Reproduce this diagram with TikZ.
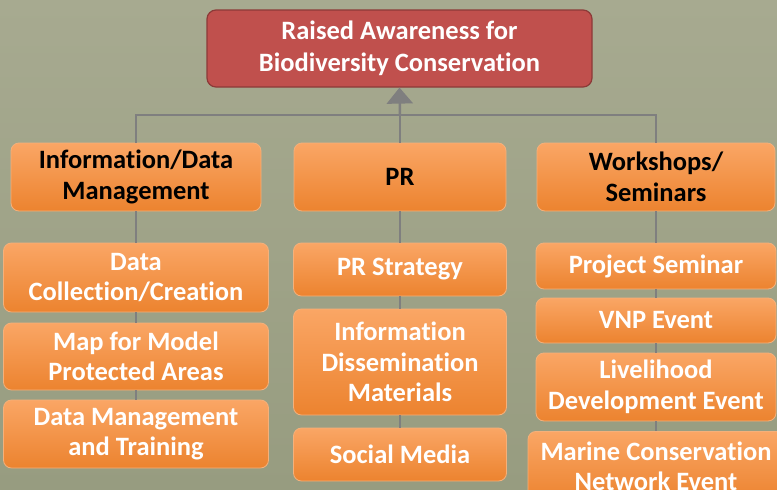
\documentclass[tikz,border=0pt]{standalone}
\usepackage{fontspec}
\setmainfont{Carlito}[Ligatures=NoCommon]
\usetikzlibrary{arrows.meta}
\definecolor{bgA}{HTML}{A7AA90}
\definecolor{bgB}{HTML}{979C80}
\definecolor{redfill}{HTML}{C0504D}
\definecolor{redline}{HTML}{8C3A38}
\definecolor{orTop}{HTML}{FAA665}
\definecolor{orBot}{HTML}{EC832F}
\definecolor{orLine}{HTML}{F5B07A}
\definecolor{conn}{HTML}{7F7F7F}
\tikzset{
  box/.style={rounded corners=8pt, top color=orTop, bottom color=orBot, draw=orLine, line width=0.8pt,
    align=center, inner sep=0pt, font=\fontsize{26.5}{30.5}\selectfont\bfseries, text=white},
  headbox/.style={box, text=black},
  topbox/.style={rounded corners=9pt, fill=redfill, draw=redline, line width=1.2pt, align=center,
    inner sep=0pt, text=white, font=\fontsize{26.5}{32}\selectfont\bfseries},
  connline/.style={draw=conn, line width=2.5pt},
}
\begin{document}
\begin{tikzpicture}[x=1pt,y=-1pt]
\useasboundingbox (0,0) rectangle (777,490);
\clip (0,0) rectangle (777,490);
\shade[top color=bgA, bottom color=bgB] (0,0) rectangle (777,490);
% top
\node[topbox, minimum width=385pt, minimum height=77pt] (top) at (399.5,48.5) {Raised Awareness for\\Biodiversity Conservation};
% level 1
\node[headbox, minimum width=250pt, minimum height=68pt] (info) at (136,177) {Information/Data\\Management};
\node[headbox, minimum width=212pt, minimum height=68pt] (pr) at (400,177) {PR};
\node[headbox, minimum width=238pt, minimum height=68pt] (ws) at (656,177) {Workshops/\\Seminars};
% left column
\node[box, minimum width=265pt, minimum height=69pt] (dc) at (136,277.5) {Data\\Collection/Creation};
\node[box, minimum width=265pt, minimum height=67pt] (map) at (136,356.5) {Map for Model\\Protected Areas};
\node[box, minimum width=265pt, minimum height=68pt] (dm) at (136,434) {Data Management\\and Training};
% middle column
\node[box, minimum width=213pt, minimum height=53pt] (prs) at (400,269.5) {PR Strategy};
\node[box, minimum width=213pt, minimum height=106pt] (idm) at (400,362) {Information\\Dissemination\\Materials};
\node[box, minimum width=213pt, minimum height=53pt] (sm) at (400,454.5) {Social Media};
% right column
\node[box, minimum width=240pt, minimum height=46pt] (ps) at (656,266) {Project Seminar};
\node[box, minimum width=240pt, minimum height=45pt] (vnp) at (656,320.5) {VNP Event};
\node[box, minimum width=240pt, minimum height=68pt] (lh) at (656,387) {Livelihood\\Development Event};
\node[box, minimum width=256pt, minimum height=70pt, anchor=north] (mc) at (656,431) {Marine Conservation\\Network Event};
% connectors
\coordinate (hub) at (400,115);
\draw[connline] (info.north) |- (hub) -| (ws.north);
\draw[connline] (pr.north) -- (hub);
\draw[connline, -{Triangle[width=26pt,length=16pt]}] (hub) -- (top.south);
\draw[connline, line width=2pt] (info.south) -- (dc.north);
\draw[connline, line width=2pt] (dc.south) -- (map.north);
\draw[connline, line width=2pt] (map.south) -- (dm.north);
\draw[connline, line width=2pt] (pr.south) -- (prs.north);
\draw[connline, line width=2pt] (prs.south) -- (idm.north);
\draw[connline, line width=2pt] (idm.south) -- (sm.north);
\draw[connline, line width=2pt] (ws.south) -- (ps.north);
\draw[connline, line width=2pt] (ps.south) -- (vnp.north);
\draw[connline, line width=2pt] (vnp.south) -- (lh.north);
\draw[connline, line width=2pt] (lh.south) -- (mc.north);
\end{tikzpicture}
\end{document}
